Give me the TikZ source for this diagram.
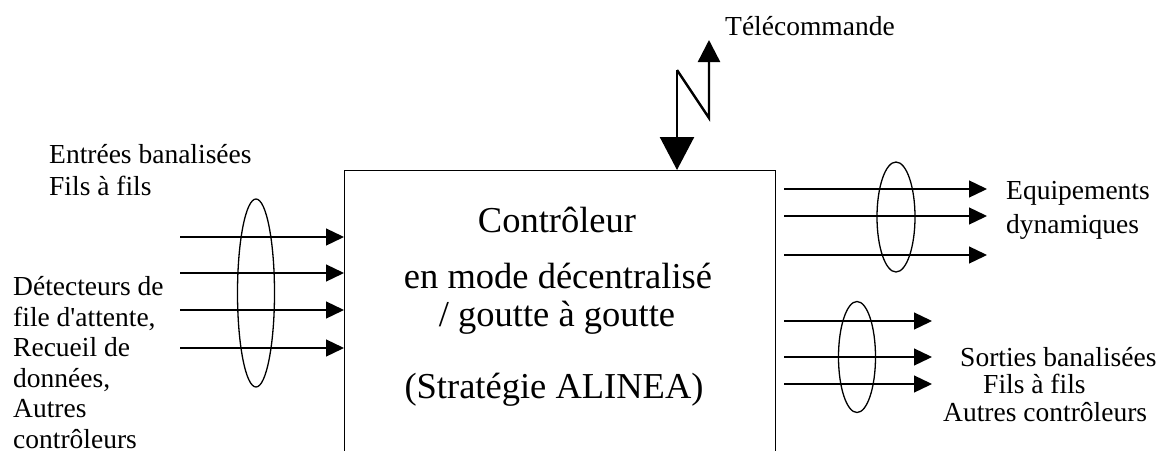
\documentclass[tikz,border=0pt]{standalone}
\usepackage{fontspec}
\setmainfont{Liberation Serif}
\usetikzlibrary{arrows.meta,shapes.geometric}
\tikzset{
    wire/.style={line width=1.3pt,-{Triangle[length=18pt,width=17pt]}},
    bundle/.style={ellipse,draw,line width=1.3pt,inner sep=0pt},
    antenna/.style={line width=2.4pt},
    lbl/.style={font=\fontsize{27.5}{30.5}\selectfont,inner sep=0pt,align=left},
    big/.style={font=\fontsize{36.5}{42}\selectfont,inner sep=0pt},
}
\begin{document}
\begin{tikzpicture}[x=1pt,y=-1pt]
    \clip (0,0) rectangle (1157,450);
    % the controller, open below
    \node[draw,line width=1.3pt,minimum width=431pt,minimum height=400pt,anchor=north west,inner sep=0pt] (ctrl) at (344,170) {};
    \node[big,anchor=base] (ctrl1) at (557,232) {Contrôleur};
    \node[big,anchor=base] (ctrl2) at (558,288) {en mode décentralisé};
    \node[big,anchor=base] (ctrl3) at (557,326) {/ goutte à goutte};
    \node[big,anchor=base] (ctrl4) at (554,398) {(Stratégie ALINEA)};

    % inputs
    \foreach \y [count=\i] in {237,273,310,348}{
        \coordinate (in\i) at (180,\y);
        \draw[wire] (in\i) -- (in\i -| ctrl.west);
    }
    \node[bundle,minimum width=37pt,minimum height=188pt] (grpin) at (256,293) {};
    % base is the last line
    \node[lbl,anchor=base west] (entrees) at (49,195) {Entrées banalisées\\[1pt]Fils à fils};
    \node[lbl,anchor=base west] (detect) at (13,448) {Détecteurs de\\file d\textquotesingle attente,\\Recueil de\\données,\\Autres\\contrôleurs};

    % outputs to the equipment
    \foreach \y [count=\i] in {189,216,255}{
        \coordinate (eq\i) at (987,\y);
        \draw[wire,shorten <=8pt] (eq\i -| ctrl.east) -- (eq\i);
    }
    \node[bundle,minimum width=38pt,minimum height=110pt] (grpeq) at (896,217) {};
    \node[lbl,anchor=base west] (equip) at (1006,233) {Equipements\\[3pt]dynamiques};

    % outputs, wire to wire
    \foreach \y [count=\i] in {321,357,384}{
        \coordinate (so\i) at (932,\y);
        \draw[wire,shorten <=8pt] (so\i -| ctrl.east) -- (so\i);
    }
    \node[bundle,minimum width=37pt,minimum height=111pt] (grpso) at (857,357) {};
    \node[lbl,anchor=base west] (sorties) at (960,366) {Sorties banalisées};
    \node[lbl,anchor=base west] (fils) at (983,393) {Fils à fils};
    \node[lbl,anchor=base west] (autres) at (943,421) {Autres contrôleurs};

    % remote control link
    \coordinate (ant1) at (677,70);
    \coordinate (ant2) at (709,118);
    \coordinate (ant3) at (709,40);
    \draw[antenna,-{Triangle[length=33pt,width=34pt]}] (ant1) -- (ant1 |- ctrl.north);
    \draw[antenna,-{Triangle[length=22pt,width=22pt]}] (ant1) -- (ant2) -- (ant3);
    \node[lbl,anchor=base west] (tele) at (725,35) {Télécommande};
\end{tikzpicture}
\end{document}
